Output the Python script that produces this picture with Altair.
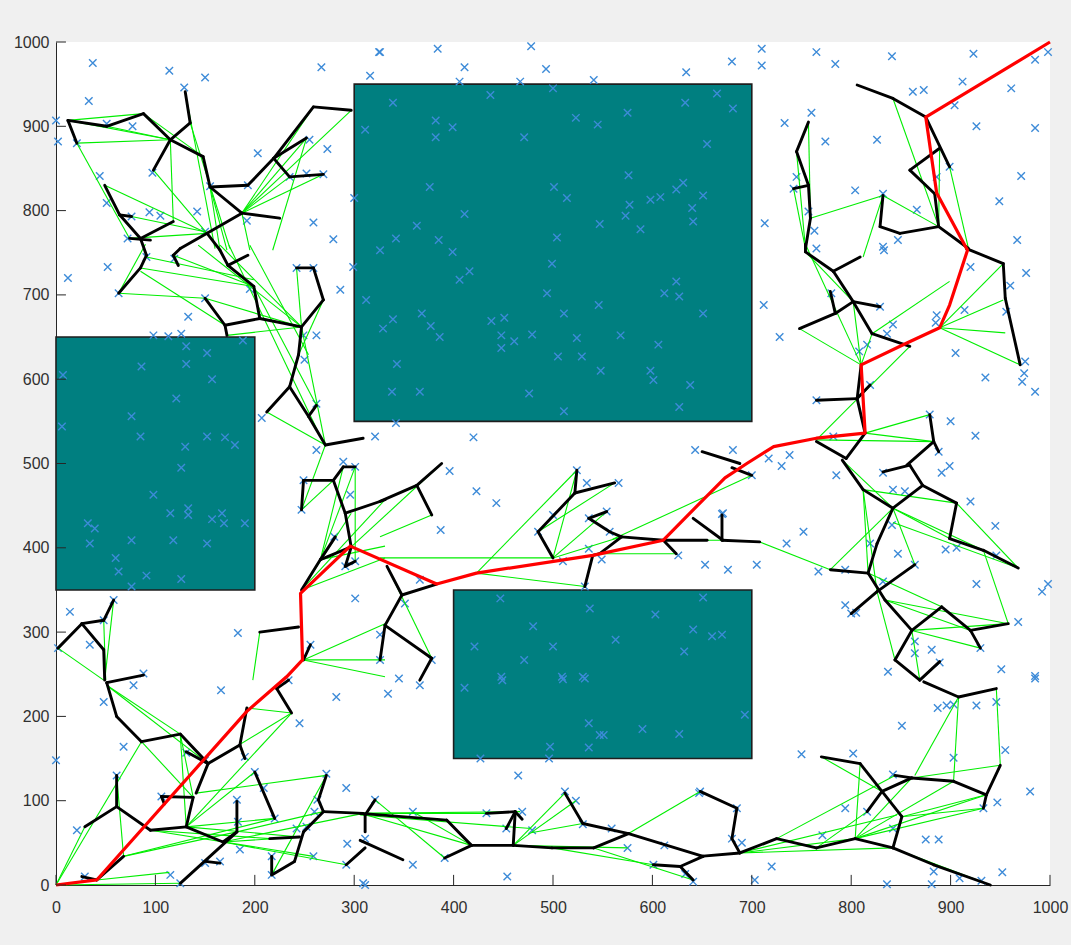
import altair as alt
import pandas as pd

X_TICKS = list(range(0, 1001, 100))
Y_TICKS = list(range(0, 1001, 100))

# obstacles: x0, x1, y0, y1
OBSTACLES = [(300, 700, 550, 950), (0, 200, 350, 650), (400, 700, 150, 350)]

SAMPLES = [
(37,975),(33,930),(114,966),(150,958),(129,946),(267,970),(325,988),(316,960),(0,907),(2,882),(21,880),(51,903),(77,900),(203,868),(273,873),(255,884),(311,896),(44,841),(97,845),(155,829),(193,830),(300,815),(252,844),(269,843),(235,840),(51,809),(76,793),(94,798),(105,794),(142,799),(259,786),(279,766),(192,788),(72,767),(150,775),
(52,733),(12,720),(133,674),(150,696),(63,702),(91,745),(119,743),(195,707),(242,732),(259,732),(299,733),(286,706),(312,694),(98,652),(113,651),(126,654),(188,646),(249,652),(262,652),(250,623),(131,639),(152,631),(131,618),(86,615),(157,600),(7,605),(121,577),(76,556),(6,544),(207,554),(262,571),(85,532),(152,532),(170,531),(180,522),(130,520),(321,532),(262,516),(289,502),
(126,495),(98,463),(115,441),(133,447),(133,439),(157,434),(167,441),(169,429),(190,429),(32,429),(39,423),(34,405),(76,409),(118,409),(152,405),(60,388),(63,372),(91,367),(126,363),(76,354),(14,324),(58,338),(48,314),(34,285),(183,299),(249,480),(247,445),(301,496),(296,463),(280,413),(301,340),(256,285),(291,378),(301,384),(326,297),(2,281),(88,251),
(0,148),(21,65),(61,130),(68,164),(48,217),(78,237),(166,231),(282,223),(245,192),(234,243),(190,152),(150,148),(131,157),(106,105),(200,134),(209,115),(182,101),(183,75),(220,79),(263,101),(260,87),(292,115),(272,132),(242,67),(252,69),(185,42),(150,26),(165,28),(217,34),(217,12),(115,12),(125,2),(29,10),(259,34),(293,49),(292,24),(311,0),(311,55),
(309,2),(359,24),(359,87),(321,101),(334,227),(366,237),(411,234),(449,243),(510,244),(532,245),(536,192),(547,178),(551,178),(536,163),(497,164),(496,150),(427,150),(590,185),(627,179),(465,130),(512,111),(523,100),(433,85),(469,87),(453,67),(479,65),(530,72),(559,67),(575,44),(612,47),(391,32),(454,10),(601,24),(633,13),(641,4),(647,109),
(693,202),(750,155),(802,156),(851,189),(887,210),(896,213),(903,214),(926,213),(946,217),(985,245),(955,160),(903,151),(842,131),(980,111),(947,98),(933,91),(794,91),(816,87),(842,67),(771,59),(875,54),(888,54),(685,91),(690,50),(680,55),(720,22),(703,6),(883,16),(881,1),(836,1),(909,8),(931,5),(952,15),(648,111),
(730,497),(700,486),(670,440),(752,419),(735,405),(705,380),(676,374),(767,372),(794,374),(785,486),(832,489),(842,469),(854,467),(891,489),(899,497),(920,455),(945,426),(847,393),(819,405),(841,427),(895,398),(906,400),(946,391),(926,357),(992,348),(998,357),(864,380),(794,332),(800,322),(805,323),(832,360),(968,312),(930,281),(864,289),(864,275),(881,279),(889,264),(837,253),(951,256),(985,248),(670,297),
(765,755),(833,753),(780,702),(712,688),(728,650),(829,686),(842,665),(836,654),(808,633),(816,641),(886,676),(885,667),(914,682),(976,726),(960,711),(956,680),(920,733),(905,631),(935,602),(974,607),(972,597),(985,585),(975,621),(819,593),(765,575),(879,558),(900,550),(925,533),(888,514),(782,532),(738,510),(717,506),(681,516),
(680,977),(710,992),(710,972),(765,988),(784,974),(841,983),(923,986),(985,979),(998,988),(912,953),(862,941),(873,943),(961,945),(904,925),(926,900),(985,898),(760,916),(733,904),(774,882),(826,884),(681,921),(971,841),(949,811),(899,852),(886,840),(866,801),(804,824),(832,820),(713,785),(745,840),(742,826),(757,799),(763,776),(967,765),(832,757),(847,765),
(326,988),(384,992),(478,995),(411,970),(493,968),(634,964),(406,953),(467,953),(541,955),(500,945),(437,937),(339,928),(633,928),(665,939),(575,916),(523,910),(545,902),(382,907),(399,899),(382,887),(471,887),(655,879),(576,842),(376,828),(501,828),(514,815),(411,796),(363,782),(342,767),(385,765),(504,768),(547,784),(588,778),(577,807),(573,794),(598,813),(608,816),(624,825),(631,833),(651,818),(640,803),(641,787),
(326,753),(399,751),(416,728),(406,718),(499,737),(494,702),(368,678),(339,671),(329,660),(377,663),(386,650),(438,669),(451,673),(448,652),(461,645),(448,637),(479,653),(511,678),(524,649),(505,627),(529,627),(546,688),(568,652),(548,610),(606,641),(612,702),(624,716),(627,698),(651,678),(598,610),(601,599),(638,593),(627,567),(343,618),(338,585),(366,585),(476,583),(511,562),(342,548),(420,531),(643,516),
(396,491),(423,467),(443,453),(387,421),(366,362),(351,334),(524,492),(534,477),(566,477),(500,439),(485,419),(554,443),(536,435),(557,419),(536,399),(510,384),(549,386),(626,391),(653,380),(671,441),(532,354),(537,328),(447,340),(603,321),(651,341),(480,307),(563,291),(641,303),(660,295),(421,283),(500,283),(471,267),(632,277),(326,267),(378,267),(345,245),(448,247),(509,247),(530,247),
]

GREEN_EDGES = [
(12,907,88,915),(12,907,115,884),(21,880,115,884),(51,900,115,884),(21,880,74,767),(88,915,148,864),(130,941,160,755),(135,904,175,755),(115,884,118,787),(98,848,152,773),(49,830,152,773),(76,793,150,775),(74,767,152,773),(187,797,259,923),(187,797,297,919),(187,797,269,843),(187,797,252,886),(187,797,235,840),(187,797,195,753),(218,753,252,886),(155,828,165,753),(155,828,172,753),
(63,702,90,760),(63,702,150,696),(85,732,199,710),(91,745,199,718),(85,728,170,664),(118,747,199,710),(143,759,247,662),(165,759,247,662),(174,759,270,522),(172,652,247,662),(242,732,247,662),(269,694,244,629),(212,561,271,522),(247,662,271,522),(195,759,254,629),(150,696,247,662),(199,710,262,569),
(247,445,279,480),(266,386,301,496),(266,386,289,496),(301,496,301,384),(247,350,331,457),(247,350,297,441),(247,350,331,388),(266,386,331,402),(249,267,331,310),(249,267,331,267),(249,267,331,247),(205,300,198,243),(2,281,48,243),(58,338,49,243),(48,314,50,243),(247,445,271,522),(297,401,388,500),
(0,0,29,69),(0,0,125,2),(0,0,86,170),(41,6,114,15),(51,237,125,179),(51,237,153,144),(86,170,138,104),(125,179,138,104),(125,179,131,69),(61,130,68,34),(131,69,237,204),(131,69,200,134),(131,69,220,79),(168,51,309,85),(168,51,292,24),(168,51,245,57),(182,63,269,87),(131,69,245,57),(68,34,182,63),(68,34,220,79),(153,144,237,204),(192,210,237,204),(141,109,272,130),(217,12,272,130),(95,65,215,55),(95,65,259,34),
(306,85,467,87),(306,83,478,67),(321,101,391,32),(306,85,418,47),(359,87,418,47),(460,47,512,109),(460,47,523,100),(478,62,530,73),(576,61,648,111),(541,44,641,6),(460,47,575,44),(499,44,601,24),(306,85,433,85),
(688,38,804,55),(688,38,846,83),(770,152,831,111),(809,144,804,55),(804,55,861,127),(804,55,903,123),(804,55,936,107),(804,55,933,91),(851,81,933,91),(851,81,936,107),(861,127,950,142),(864,130,908,223),(903,123,908,223),(946,233,950,142),(725,55,844,130),(765,44,816,87),(688,38,842,44),(842,44,940,0),
(791,504,842,447),(812,469,906,453),(812,469,817,370),(812,469,826,348),(842,447,899,411),(842,447,933,397),(842,430,968,376),(842,447,864,380),(779,374,842,447),(708,407,779,374),(817,370,891,330),(834,338,920,302),(834,338,958,310),(861,302,958,310),(861,302,930,281),(933,397,958,310),(826,348,844,267),(861,302,869,243),(906,453,968,376),
(754,751,802,692),(754,760,810,617),(821,654,899,716),(821,654,810,617),(748,660,810,617),(889,661,953,737),(889,661,953,694),(889,661,955,655),(889,661,970,617),(814,536,883,526),(814,536,879,558),(765,528,883,526),(765,528,859,639),(802,692,810,617),
(842,933,888,781),(889,874,888,781),(899,852,918,755),(757,905,759,791),(745,870,754,755),(742,826,754,755),(759,791,832,818),(832,818,888,781),(832,818,812,745),
(326,413,378,439),(326,388,500,388),(423,370,524,492),(500,388,524,492),(500,388,554,443),(500,388,569,413),(485,419,562,477),(423,370,532,354),(333,378,378,269),(611,409,671,409),(546,393,624,393),(560,410,700,486),
]

BLACK_PATHS = [
[(12,907),(51,900),(88,915),(115,884),(148,864),(155,828)],
[(12,907),(21,880)],
[(115,884),(135,904),(130,941)],
[(115,884),(98,848)],
[(155,828),(193,830),(219,862),(259,923),(297,919)],
[(219,862),(252,886)],
[(219,862),(235,840),(269,843)],
[(155,828),(187,797),(225,791)],
[(187,797),(152,773),(125,755),(118,747),(123,735)],
[(49,830),(64,795),(76,793)],
[(64,795),(85,767),(118,787)],
[(74,767),(95,765)],
[(85,767),(91,747),(85,732),(63,702)],
[(152,773),(165,753),(173,735),(199,710),(205,672),(247,662)],
[(173,735),(193,747)],
[(170,664),(205,672)],
[(150,696),(170,664),(172,652)],
[(247,662),(269,694),(259,732),(242,732)],
[(247,662),(244,629),(235,591),(212,561)],
[(235,591),(254,556),(262,569)],
[(254,556),(271,522),(309,530)],
[(249,480),(279,480),(289,496),(301,496)],
[(249,480),(247,445)],
[(279,480),(291,441),(297,401)],
[(291,441),(331,457)],
[(297,401),(291,378),(301,384)],
[(247,350),(266,386),(281,413)],
[(266,386),(297,401)],
[(205,300),(244,306)],
[(249,267),(256,285)],
[(2,281),(26,310),(48,314),(58,338)],
[(26,310),(48,279),(49,243)],
[(51,240),(88,249)],
[(51,240),(61,200),(86,170),(125,179),(153,144)],
[(131,158),(153,144)],
[(153,144),(185,166),(190,150)],
[(185,166),(192,210)],
[(153,144),(141,109)],
[(106,105),(138,104),(131,69)],
[(106,105),(109,96)],
[(95,65),(131,69),(168,51),(182,63),(182,99)],
[(182,63),(125,2)],
[(150,28),(165,26)],
[(29,69),(61,93),(61,130)],
[(61,93),(95,65)],
[(41,6),(68,34)],
[(26,10),(41,6)],
[(200,134),(220,79)],
[(215,55),(245,57)],
[(217,34),(217,12),(240,28),(249,63),(269,87),(264,101),(272,130)],
[(269,87),(309,85)],
[(292,24),(311,44)],
[(222,233),(237,204)],
[(222,233),(234,243)],
[(306,53),(349,30)],
[(311,63),(311,83),(321,101)],
[(306,85),(393,77),(418,47),(391,32)],
[(418,47),(460,47),(499,44),(541,44),(576,61),(651,34)],
[(460,47),(462,87),(433,85)],
[(453,67),(462,87),(469,78)],
[(576,61),(530,73),(512,109)],
[(601,24),(628,22),(641,6)],
[(628,22),(651,34)],
[(648,111),(685,91),(680,55),(688,38)],
[(648,34),(688,38),(725,55),(765,44),(804,55),(842,44),(851,81),(831,111),(809,144),(770,152)],
[(842,44),(883,24),(940,0)],
[(816,87),(831,111),(861,127),(844,130)],
[(861,127),(903,123),(936,107),(950,142)],
[(936,107),(933,91)],
[(873,241),(908,223),(946,233)],
[(832,490),(859,498),(872,474),(906,453),(899,411),(933,397),(968,376)],
[(872,474),(842,447),(812,469),(791,504)],
[(842,447),(826,405),(817,370),(779,374)],
[(817,370),(834,338),(861,302),(891,330),(920,302),(958,310)],
[(920,302),(930,281)],
[(864,380),(826,348),(800,322)],
[(861,302),(844,267),(869,243),(889,265)],
[(670,439),(670,409),(708,407)],
[(680,495),(700,486)],
[(754,760),(754,751),(782,728),(809,745)],
[(782,728),(802,692),(821,654),(859,639)],
[(802,692),(829,686)],
[(802,692),(784,678),(748,660)],
[(784,678),(779,704)],
[(916,755),(953,737),(955,696),(970,617)],
[(810,617),(806,577),(765,575)],
[(806,577),(814,536),(795,506)],
[(806,577),(819,593)],
[(765,526),(795,506)],
[(879,558),(883,526),(856,498)],
[(883,526),(888,514)],
[(650,514),(688,500)],
[(806,949),(842,933),(875,911)],
[(875,911),(899,852)],
[(889,874),(859,848),(884,820),(888,781),(849,773),(829,781),(832,818)],
[(888,781),(918,755)],
[(757,905),(745,870),(757,830),(742,826)],
[(757,830),(759,791),(754,755)],
[(388,500),(363,474),(326,455)],
[(363,474),(378,439)],
[(333,378),(348,344),(383,357)],
[(348,344),(331,308),(326,267)],
[(331,308),(378,269),(366,243)],
[(500,388),(485,419),(522,465),(524,492)],
[(522,465),(562,477)],
[(554,443),(536,435),(557,419),(569,413),(611,409),(624,393)],
[(569,413),(547,393),(540,391),(532,354)],
[(641,435),(671,409)],
[(611,409),(655,409)],
]

RED_PATH = [(0,0),(41,6),(192,206),(232,247),(248,267),(246,346),(296,402),(383,357),(423,370),
            (540,391),(611,409),(641,445),(673,483),(695,500),(722,520),(765,530),(814,536),
            (810,617),(856,643),(889,661),(899,688),(917,753),(886,821),(875,911),(1000,1000)]

# ---- tables built from the lists above ----
obs_df = pd.DataFrame(OBSTACLES, columns=["x0", "x1", "y0", "y1"])
pts_df = pd.DataFrame(SAMPLES, columns=["x", "y"])
green_df = pd.DataFrame(GREEN_EDGES, columns=["x", "y", "x2", "y2"])
black_rows = []
for path in BLACK_PATHS:
    for (a, b), (c, d) in zip(path[:-1], path[1:]):
        black_rows.append({"x": a, "y": b, "x2": c, "y2": d})
black_df = pd.DataFrame(black_rows)
red_df = pd.DataFrame([{"x": x, "y": y, "o": i} for i, (x, y) in enumerate(RED_PATH)])
xt_df = pd.DataFrame({"x": X_TICKS, "y": 0, "y2": 12})
yt_df = pd.DataFrame({"y": Y_TICKS, "x": 0, "x2": 10})

DOM = [0, 1000]
xs = alt.Scale(domain=DOM, nice=False, zero=False)
ys = alt.Scale(domain=DOM, nice=False, zero=False)

xaxis = alt.Axis(values=X_TICKS, title=None, grid=False, ticks=False, tickSize=0, format="d",
                 labelFontSize=16, labelColor="#303030", labelFont="Liberation Sans",
                 labelPadding=14, labelFlush=False, domainColor="#262626", domainWidth=1)
yaxis = alt.Axis(values=Y_TICKS, title=None, grid=False, ticks=False, tickSize=0, format="d",
                 labelFontSize=16, labelColor="#303030", labelFont="Liberation Sans",
                 labelPadding=7, labelFlush=False, domainColor="#262626", domainWidth=1)


def X(field):
    return alt.X(field, type="quantitative", scale=xs, axis=xaxis)


def Y(field):
    return alt.Y(field, type="quantitative", scale=ys, axis=yaxis)


rects = alt.Chart(obs_df).mark_rect(color="#007f80", stroke="#1e1e1e", strokeWidth=1.6).encode(
    x=X("x0"), x2="x1:Q", y=Y("y0"), y2="y1:Q")

points = alt.Chart(pts_df).mark_point(
    shape="M-1,-1L1,1M1,-1L-1,1", filled=False, size=56, strokeWidth=1.4,
    color="#3d8bd8", opacity=1).encode(x=X("x"), y=Y("y"))

green = alt.Chart(green_df).mark_rule(color="#00ee00", strokeWidth=1.1).encode(
    x=X("x"), y=Y("y"), x2="x2:Q", y2="y2:Q")

black = alt.Chart(black_df).mark_rule(color="#000000", strokeWidth=2.9, strokeCap="round").encode(
    x=X("x"), y=Y("y"), x2="x2:Q", y2="y2:Q")

red = alt.Chart(red_df).mark_line(color="#ff0000", strokeWidth=3.2, strokeJoin="round").encode(
    x=X("x"), y=Y("y"), order="o:Q")

xticks = alt.Chart(xt_df).mark_rule(color="#262626", strokeWidth=1).encode(
    x=X("x"), y=Y("y"), y2="y2:Q")
yticks = alt.Chart(yt_df).mark_rule(color="#262626", strokeWidth=1).encode(
    y=Y("y"), x=X("x"), x2="x2:Q")

chart = alt.layer(rects, points, green, black, red, xticks, yticks).properties(
    width=994, height=843,
    autosize=alt.AutoSizeParams(type="none"),
    padding={"left": 56, "top": 42, "right": 21, "bottom": 60},
    background="#f0f0f0",
).configure_view(fill="white", stroke=None)

chart.save("out.html", embed_options={"renderer": "svg", "actions": False})
